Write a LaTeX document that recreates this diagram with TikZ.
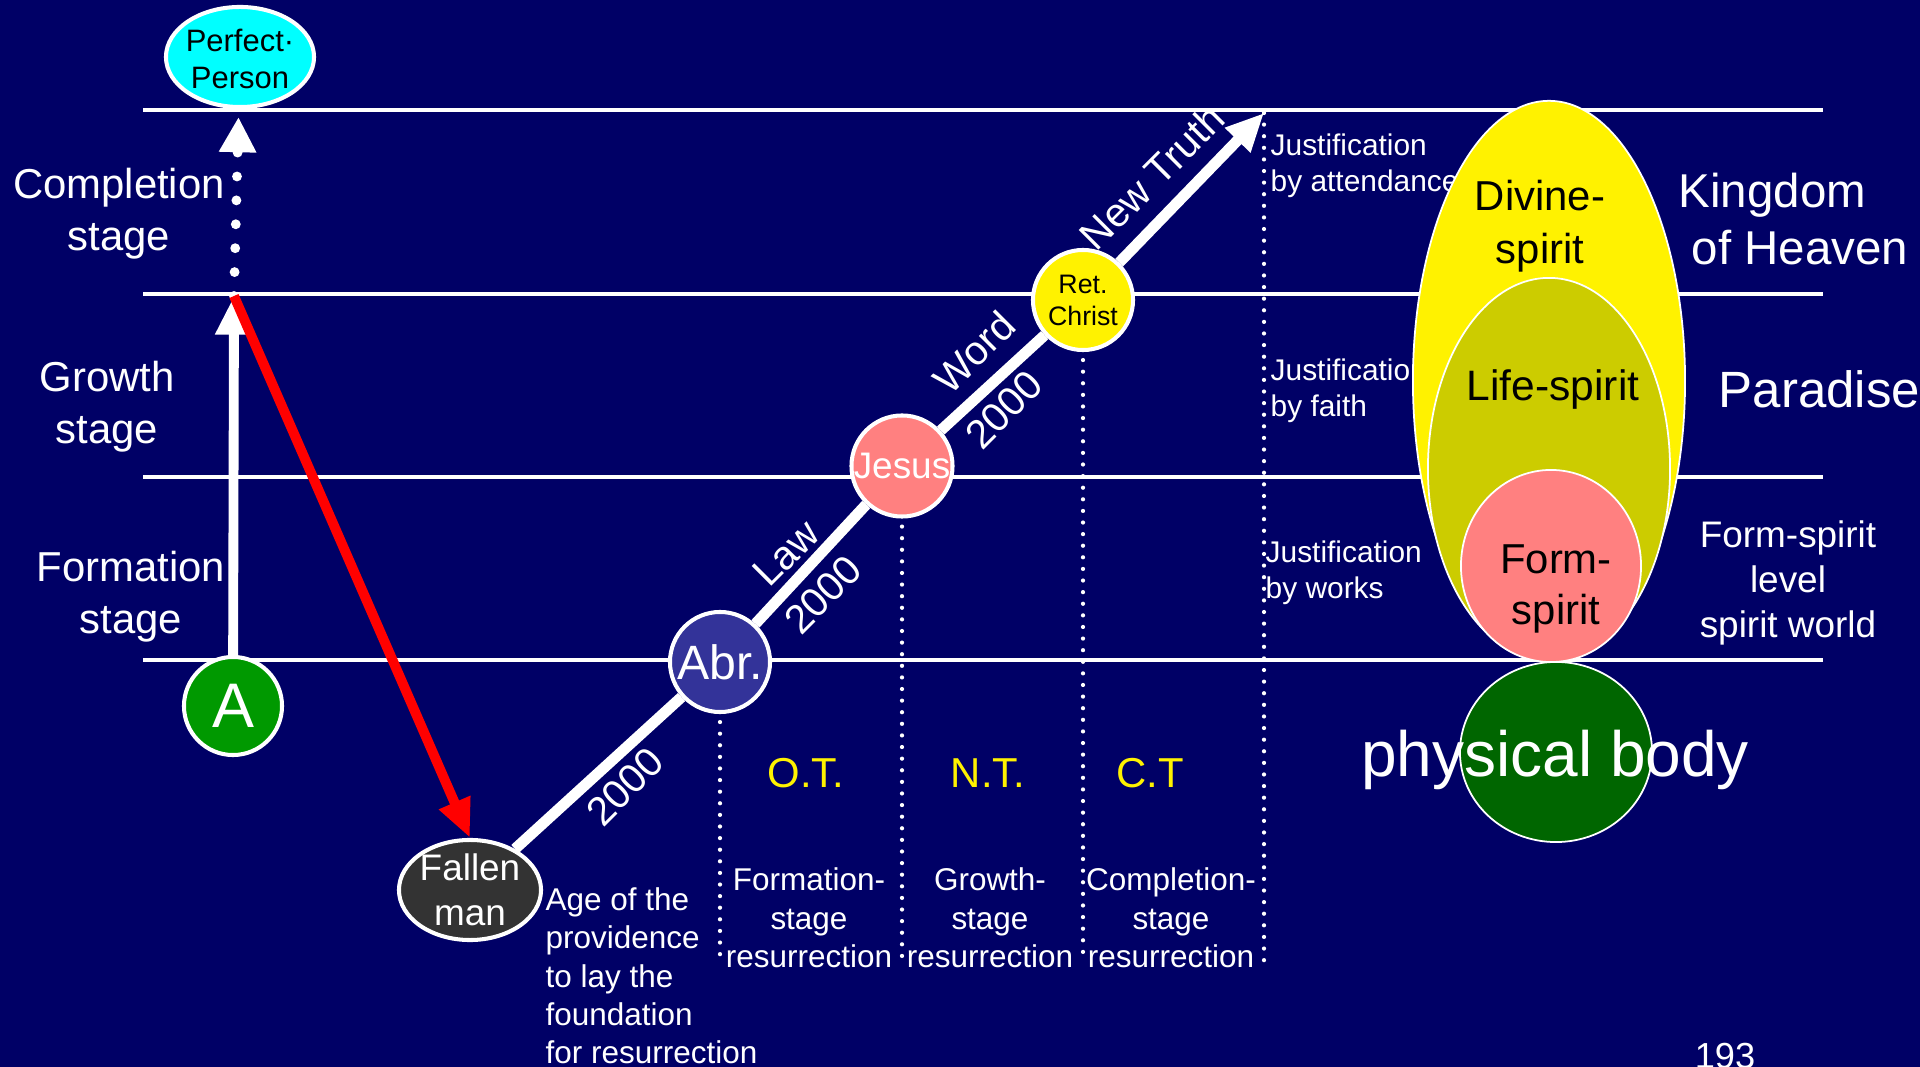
\documentclass[tikz,border=0pt]{standalone}
\usepackage{fontspec}
\setmainfont{Liberation Sans}
\usetikzlibrary{shapes.geometric,arrows.meta}
\definecolor{bgnavy}{RGB}{0,0,102}
\definecolor{perfcyan}{RGB}{0,255,255}
\definecolor{agreen}{RGB}{0,153,0}
\definecolor{fallgray}{RGB}{51,51,51}
\definecolor{abrblue}{RGB}{51,51,153}
\definecolor{jesuspink}{RGB}{255,128,128}
\definecolor{lifeolive}{RGB}{204,204,0}
\definecolor{bodygreen}{RGB}{0,102,0}
\newcommand{\pxfont}[2]{\fontsize{#1pt}{#2pt}\selectfont}

\begin{document}
\begin{tikzpicture}[x=0.01cm,y=-0.01cm,
  spot/.style={ellipse, draw=white, line width=1.15pt, inner sep=0pt},
  stagetxt/.style={text=white, align=center, font=\pxfont{11.9}{14.8}},
  justtxt/.style={text=white, anchor=west, align=left, inner sep=0pt, font=\pxfont{8.5}{10.1}},
  restxt/.style={text=white, align=center, font=\pxfont{8.95}{10.9}},
  diagtxt/.style={text=white, rotate=45, font=\pxfont{11.5}{13}},
  dropline/.style={white, line width=1.2pt, line cap=round, dash pattern=on 0pt off 3.3pt}]
  \useasboundingbox (0,0) rectangle (1920,1067);
  \fill[bgnavy] (0,0) rectangle (1920,1067);
  \clip (0,0) rectangle (1920,1067);

  % ---- Stage lines ----
  \foreach \y in {110,294,477,660}
    \draw[white,line width=1.4pt] (143,\y) -- (1823,\y);

  % ---- Stage names ----
  \node[stagetxt] (compl) at (119,214) {Completion\\stage};
  \node[stagetxt] (growth) at (107,407) {Growth\\stage};
  \node[stagetxt] (formation) at (131,597) {Formation\\stage};

  % ---- Justification ----
  \node[justtxt] (justA) at (1270,166) {Justification\\by attendance};
  \node[justtxt] (justF) at (1270,391) {Justification\\by faith};
  \node[justtxt] (justW) at (1265,573) {Justification\\by works};

  % ---- Spirit ellipses ----
  \filldraw[fill=yellow,draw=white,line width=0.5pt] (1549,381) ellipse (1.36cm and 2.8cm);
  \filldraw[fill=lifeolive,draw=white,line width=0.5pt] (1549,469) ellipse (1.21cm and 1.91cm);
  \filldraw[fill=jesuspink,draw=white,line width=0.5pt] (1551,566) ellipse (0.9cm and 0.96cm);
  \filldraw[fill=bodygreen,draw=white,line width=0.5pt] (1556,752) ellipse (0.96cm and 0.9cm);
  \node[align=center,font=\pxfont{11.9}{15}] (divine) at (1540,226) {Divine-\\spirit};
  \node[font=\pxfont{12.1}{15}] (life) at (1553,390) {Life-spirit};
  \node[align=center,font=\pxfont{11.9}{14.5}] (formsp) at (1556,589) {Form-\\spirit};
  \node[text=white,font=\pxfont{18.2}{20}] (body) at (1555,760) {physical body};

  % ---- Spirit world names ----
  \node[text=white,anchor=west,align=left,inner sep=0pt,font=\pxfont{13.5}{16}] (kingdom) at (1678,219)
    {Kingdom\\\hspace*{0.13cm}of Heaven};
  \node[text=white,anchor=west,inner sep=0pt,font=\pxfont{14.5}{16}] (paradise) at (1718,389) {Paradise};
  \node[text=white,align=center,font=\pxfont{10.5}{12.7}] (formworld) at (1788,583) {Form-spirit\\level\\spirit world};
  \node[text=white,font=\pxfont{10.3}{12}] (page) at (1725,1056) {193};

  % ---- Persons ----
  \node[spot, fill=perfcyan, minimum width=1.48cm, minimum height=1.0cm,
        label={[align=center,font=\pxfont{8.8}{10.5},yshift=-0.02cm]center:Perfect·\\Person}] (perfect) at (240,57) {};
  \node[spot, fill=agreen, minimum size=0.98cm,
        label={[text=white,font=\pxfont{17.9}{20}]center:A}] (adam) at (233,706) {};
  \node[spot, fill=fallgray, minimum width=1.42cm, minimum height=1.0cm,
        label={[text=white,align=center,font=\pxfont{10.5}{12.8}]center:Fallen\\man}] (fallen) at (470,890) {};
  \node[spot, fill=abrblue, minimum size=1.0cm,
        label={[text=white,font=\pxfont{13.7}{15}]center:Abr.}] (abr) at (720,662) {};
  \node[spot, fill=jesuspink, minimum size=1.01cm,
        label={[text=white,font=\pxfont{10.5}{12}]center:Jesus}] (jesus) at (902,466) {};
  \node[spot, fill=yellow, minimum size=1.0cm,
        label={[align=center,font=\pxfont{7.6}{9.1}]center:Ret.\\Christ}] (ret) at (1083,300) {};

  \coordinate (junction) at (234,296);
  \coordinate (tip) at (1264,113);
  \coordinate (base) at (0,963);

  % ---- Growth of A and the fall ----
  \draw[white,line width=2.8pt,-{Triangle[width=10pt,length=11pt]}] (adam) -- (junction);
  \draw[white,line width=2.8pt,line cap=round,dash pattern=on 0pt off 6.8pt,
        shorten >=0.08cm,-{Triangle[width=10pt,length=10pt]}] (junction) -- (perfect);
  \draw[red,line width=2.8pt,-{Triangle[width=9pt,length=11pt]}] (junction) -- (fallen.north);

  % ---- Providence of restoration ----
  \foreach \a/\b in {fallen/abr,abr/jesus,jesus/ret}
    \draw[white,line width=3.1pt] (\a) -- (\b);
  \draw[white,line width=3.1pt,-{Triangle[width=9.4pt,length=10.8pt]}] (ret) -- (tip);
  \node[diagtxt] (yrsA) at (625,787) {2000};
  \node[diagtxt] (law) at (786,553) {Law};
  \node[diagtxt] (yrsB) at (823,595) {2000};
  \node[diagtxt] (word) at (974,352) {Word};
  \node[diagtxt] (yrsC) at (1004,410) {2000};
  \node[diagtxt] (truth) at (1152,177) {New Truth};

  % ---- Dotted drops ----
  \foreach \n in {abr,jesus,ret}
    \draw[dropline,shorten <=0.08cm] (\n.south) -- (\n.south |- base);
  \draw[dropline] (tip) -- (tip |- base);

  % ---- Ages ----
  \node[text=yellow,font=\pxfont{11.9}{14}] (ot) at (806,773) {O.T.};
  \node[text=yellow,font=\pxfont{11.9}{14}] (nt) at (988,773) {N.T.};
  \node[text=yellow,font=\pxfont{11.9}{14}] (ct) at (1150,773) {C.T};
  \node[restxt] (resA) at (809,918) {Formation-\\stage\\resurrection};
  \node[restxt] (resB) at (990,918) {Growth-\\stage\\resurrection};
  \node[restxt] (resC) at (1171,918) {Completion-\\stage\\resurrection};
  \node[restxt,anchor=west,align=left,inner sep=0pt] (found) at (545,976)
    {Age of the\\providence\\to lay the\\foundation\\for resurrection};
\end{tikzpicture}
\end{document}
